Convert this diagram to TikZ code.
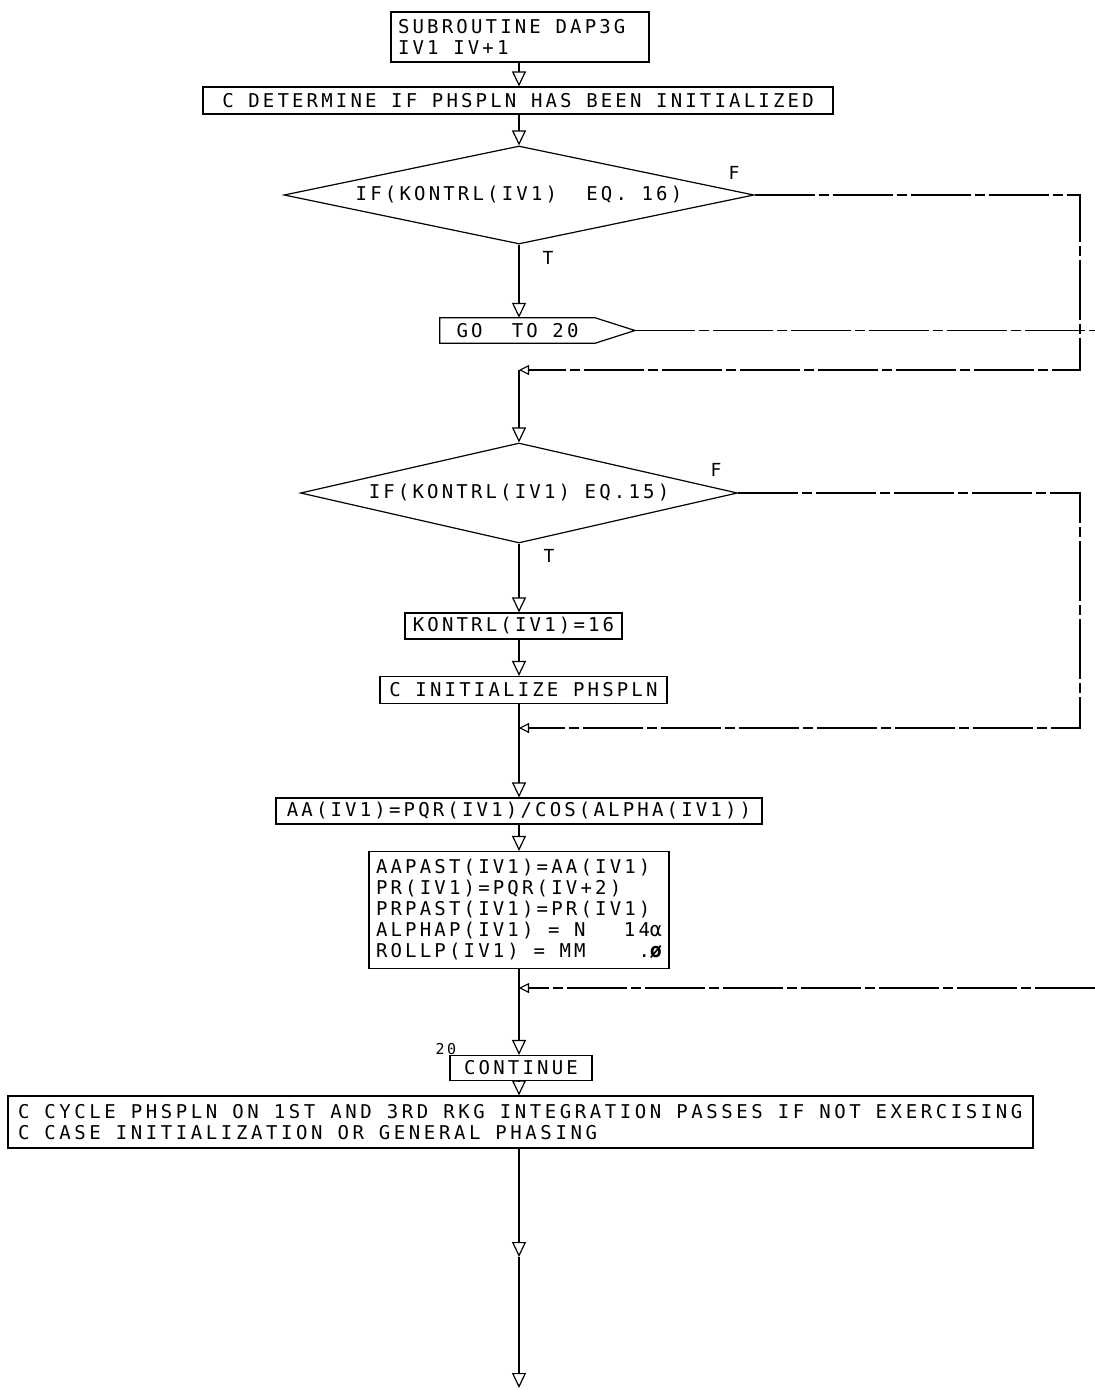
\documentclass[tikz,border=0pt]{standalone}
\usepackage{fontspec}
\newfontfamily\plotfont[LetterSpace=16.7]{DejaVu Sans Mono}
\newfontfamily\plotfontb[LetterSpace=18.8]{DejaVu Sans Mono}
\usetikzlibrary{arrows.meta,shapes.geometric}
\newcommand{\nospc}{\spaceskip=0pt\xspaceskip=0pt\relax}
\begin{document}
\begin{tikzpicture}[x=1pt,y=-1pt,
  every node/.style={font=\plotfont\fontsize{19}{21}\selectfont, inner sep=0pt},
  box/.style={draw, line width=1.2pt},
  dia/.style={diamond, draw, line width=1.2pt, inner sep=0pt},
  flow/.style={line width=1.2pt, -{Triangle[open,width=14pt,length=15pt]}},
  merge/.style={-{Triangle[open,width=10pt,length=10pt]}},
  link/.style={line width=1.1pt, dash pattern=on 60pt off 4pt on 10pt off 4pt},
  lbl/.style={font=\plotfont\fontsize{18}{20}\selectfont}]
\useasboundingbox (0,0) rectangle (1095,1390);
\coordinate (sp) at (519,0);
\coordinate (rx) at (1080,0);

\node[box, minimum width=258, minimum height=50, text width=244, align=left] (top) at (520,37) {\nospc SUBROUTINE DAP3G\\IV1 IV+1};
\node[box, minimum width=630, minimum height=27] (det) at (518,100.5) {C DETERMINE IF PHSPLN HAS BEEN INITIALIZED};
\node[dia, aspect=4.8, minimum width=470, minimum height=98] (d1) at (519,195) {IF(KONTRL(IV1)\ \ EQ. 16)};
\node[lbl] (f1) at (734,173) {F};
\node[lbl] (t1) at (548,258) {T};

\node[minimum width=155, minimum height=25] (goto) at (517.5,330.5) {GO\ \ TO 20};
\coordinate (gotip) at (635,330.5);
\draw[line width=1.2pt] (goto.north west) -- (goto.north east) -- (gotip) -- (goto.south east) -- (goto.south west) -- cycle;
\coordinate (off1) at (1095,330.5);
\coordinate (j1) at (519,370);

\node[dia, aspect=4.4, minimum width=437, minimum height=100] (d2) at (519,493) {IF(KONTRL(IV1) EQ.15)};
\node[lbl] (f2) at (716,470) {F};
\node[lbl] (t2) at (549,556) {T};

\node[box, minimum width=217, minimum height=26] (kon) at (513.5,626) {KONTRL(IV1)=16};
\node[box, minimum width=287, minimum height=27] (init) at (523.5,690) {C INITIALIZE PHSPLN};
\coordinate (j2) at (519,728);
\node[box, minimum width=486, minimum height=26] (aa) at (519,811) {AA(IV1)=PQR(IV1)/COS(ALPHA(IV1))};
\node[box, minimum width=300, minimum height=117, text width=286, align=left] (rr) at (519,910)
  {\nospc AAPAST(IV1)=AA(IV1)\\PR(IV1)=PQR(IV+2)\\PRPAST(IV1)=PR(IV1)\\ALPHAP(IV1) = N\hfill 14{\fontsize{20}{21}\selectfont α}\\ROLLP(IV1) = MM\hfill .{\fontsize{20}{21}\selectfont\bfseries ø}};
\coordinate (off2) at (1095,988);
\coordinate (j3) at (519,988);
\node[box, minimum width=142, minimum height=25] (cont) at (521,1068) {CONTINUE};
\node[lbl, anchor=south, font=\plotfont\fontsize{15}{17}\selectfont] (n20) at (446,1055) {20};
\node[box, minimum width=1025, minimum height=52, inner xsep=2pt, text width=1021, align=left, font=\plotfontb\fontsize{19}{21}\selectfont] (cyc) at (520.5,1122)
  {\nospc\hspace*{8pt}C CYCLE PHSPLN ON 1ST AND 3RD RKG INTEGRATION PASSES IF NOT EXERCISING\\\hspace*{8pt}C CASE INITIALIZATION OR GENERAL PHASING};
\coordinate (m1) at (519,1257);
\coordinate (bt) at (519,1388);

\draw[flow] (top.south -| sp) -- (det.north -| sp);
\draw[flow] (det.south -| sp) -- (d1.north);
\draw[flow] (d1.south) -- (goto.north -| sp);
\draw[link] (gotip) -- (off1);
\draw[link, merge] (d1.east) -| (j1 -| rx) -- (j1);
\draw[flow] (j1) -- (d2.north);
\draw[link, merge] (d2.east) -| (j2 -| rx) -- (j2);
\draw[flow] (d2.south) -- (kon.north -| sp);
\draw[flow] (kon.south -| sp) -- (init.north -| sp);
\draw[flow] (init.south -| sp) -- (aa.north -| sp);
\draw[flow] (aa.south -| sp) -- (rr.north -| sp);
\draw[link, merge] (off2) -- (j3);
\draw[flow] (rr.south -| sp) -- (cont.north -| sp);
\draw[flow] (cont.south -| sp) -- (cyc.north -| sp);
\draw[flow] (cyc.south -| sp) -- (m1);
\draw[flow] (m1) -- (bt);
\end{tikzpicture}
\end{document}
